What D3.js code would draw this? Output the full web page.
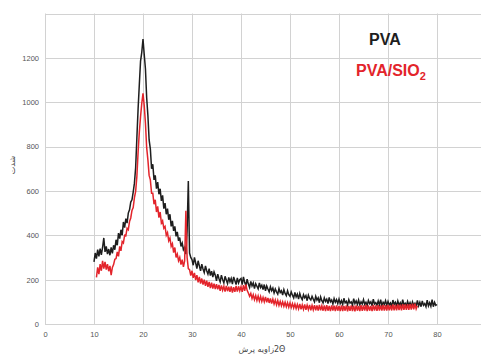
<!DOCTYPE html>
<html>
<head>
<meta charset="utf-8">
<script src="https://cdn.jsdelivr.net/npm/d3@7"></script>
<style>
  body { margin: 0; background: #fff; }
  svg { display: block; }
</style>
</head>
<body>
<div id="chart"></div>
<script>
// 2-theta sampling (degrees)
const pvaStart = 10, pvaEnd = 80, step = 0.25;
const sioStart = 10.5, sioEnd = 76;

// PVA intensity, 10..80 every 0.25 deg
const pvaValues = [
  280, 320, 295, 335, 305, 340, 312, 345, 388, 325, 350, 315, 338, 310, 345, 318, 355, 335, 380, 355,
  410, 385, 425, 400, 460, 435, 475, 455, 500, 515, 550, 560, 595, 635, 705, 840, 970, 1080, 1185, 1225,
  1285, 1215, 1150, 1020, 940, 830, 790, 700, 720, 650, 670, 610, 640, 585, 610, 555, 580, 520, 545, 495,
  520, 470, 495, 440, 465, 420, 440, 395, 415, 375, 390, 350, 365, 335, 345, 315, 420, 645, 320, 300,
  290, 265, 300, 275, 250, 285, 262, 240, 270, 248, 232, 262, 240, 225, 250, 218, 238, 212, 235, 220,
  195, 225, 205, 190, 220, 200, 185, 215, 198, 182, 210, 190, 205, 180, 212, 195, 178, 208, 185, 200,
  205, 178, 212, 188, 172, 202, 180, 165, 192, 172, 185, 160, 182, 170, 158, 185, 165, 175, 155, 178,
  150, 172, 158, 145, 168, 150, 162, 140, 158, 145, 135, 160, 142, 150, 130, 155, 138, 128, 150, 132,
  125, 145, 130, 118, 142, 122, 135, 112, 138, 120, 110, 132, 118, 128, 105, 130, 115, 108, 125, 112,
  100, 125, 108, 118, 96, 122, 105, 95, 118, 102, 112, 92, 120, 100, 108, 90, 115, 98, 110, 92,
  112, 92, 105, 88, 116, 95, 102, 86, 110, 94, 100, 85, 114, 92, 104, 88, 108, 86, 100, 90,
  110, 88, 98, 84, 106, 92, 100, 82, 112, 90, 96, 84, 104, 86, 110, 82, 98, 88, 105, 84,
  102, 86, 95, 80, 108, 88, 98, 82, 104, 84, 96, 80, 110, 86, 94, 82, 102, 84, 96, 78,
  100, 84, 94, 80, 106, 82, 98, 78, 104, 84, 92, 78, 108, 82, 96, 80, 110, 78, 98, 84,
  88
];

// PVA/SiO2 intensity, 10.5..76 every 0.25 deg
const sioValues = [
  210, 255, 225, 270, 240, 285, 250, 280, 245, 270, 238, 262, 220, 255, 268, 292, 295, 325,
  305, 350, 330, 372, 365, 400, 398, 432, 425, 462, 478, 512, 525, 570, 598, 665, 775, 865, 935, 995,
  1040, 985, 905, 795, 740, 670, 650, 590, 590, 540, 560, 505, 530, 480, 505, 455, 465, 432, 440, 400,
  412, 375, 388, 350, 362, 322, 345, 300, 315, 285, 300, 268, 290, 258, 285, 510, 300, 250, 245, 218,
  240, 208, 230, 198, 220, 188, 212, 182, 205, 178, 200, 172, 195, 168, 190, 162, 186, 160, 182, 158,
  180, 156, 176, 150, 174, 152, 170, 146, 172, 148, 168, 145, 170, 142, 166, 145, 172, 146, 170, 150,
  168, 145, 175, 150, 178, 152, 140, 125, 138, 115, 132, 110, 128, 106, 126, 104, 124, 102, 120, 100,
  122, 98, 118, 95, 115, 92, 112, 90, 108, 86, 106, 84, 102, 82, 100, 80, 98, 78, 96, 76,
  95, 74, 92, 72, 90, 70, 88, 68, 90, 66, 86, 66, 88, 64, 85, 65, 86, 62, 84, 64,
  85, 62, 84, 60, 86, 62, 82, 60, 84, 58, 85, 60, 82, 58, 84, 60, 83, 58, 84, 60,
  82, 58, 84, 58, 82, 60, 84, 57, 82, 59, 84, 58, 83, 57, 84, 60, 82, 58, 85, 59,
  84, 60, 86, 58, 84, 60, 82, 58, 86, 60, 84, 59, 85, 60, 84, 60, 86, 60, 85, 61,
  86, 62, 85, 61, 88, 62, 86, 62, 88, 63, 87, 62, 89, 64, 88, 64, 90, 64, 90, 65,
  92, 66, 92, 68, 82
];

const xTicks = [0, 10, 20, 30, 40, 50, 60, 70, 80];
const yTicks = [0, 200, 400, 600, 800, 1000, 1200];
const yGrid = [0, 200, 400, 600, 800, 1000, 1200, 1400];
const xGrid = [0, 10, 20, 30, 40, 50, 60, 70, 80, 90];

const pva = d3.range(pvaStart, pvaEnd + step / 2, step).map((a, i) => ({ a, v: pvaValues[i] }));
const sio = d3.range(sioStart, sioEnd + step / 2, step).map((a, i) => ({ a, v: sioValues[i] }));

const width = 481;
const height = 354;

const svg = d3.select("#chart")
  .append("svg")
  .attr("width", width)
  .attr("height", height);

const x = d3.scaleLinear().domain([0, 90]).range([45, 486]);
const y = d3.scaleLinear().domain([0, 1400]).range([324, 13.5]);

// grid
svg.append("g")
  .selectAll("line")
  .data(yGrid)
  .join("line")
  .attr("x1", x(0)).attr("x2", x(90))
  .attr("y1", d => Math.round(y(d)) + 0.5).attr("y2", d => Math.round(y(d)) + 0.5)
  .attr("stroke", "#d2d2d2");

svg.append("g")
  .selectAll("line")
  .data(xGrid)
  .join("line")
  .attr("x1", d => Math.round(x(d)) + 0.5).attr("x2", d => Math.round(x(d)) + 0.5)
  .attr("y1", y(0)).attr("y2", y(1400))
  .attr("stroke", "#d2d2d2");

// axes (labels only)
const xAxis = svg.append("g")
  .attr("transform", `translate(0,${y(0)})`)
  .call(d3.axisBottom(x).tickValues(xTicks).tickSize(0).tickPadding(8).tickFormat(d3.format("d")));
const yAxis = svg.append("g")
  .attr("transform", `translate(${x(0)},0)`)
  .call(d3.axisLeft(y).tickValues(yTicks).tickSize(0).tickPadding(6).tickFormat(d3.format("d")));
[xAxis, yAxis].forEach(g => {
  g.select(".domain").remove();
  g.selectAll("text")
    .attr("font-family", "Liberation Sans, Arial, sans-serif")
    .attr("font-size", 7.5)
    .attr("fill", "#555");
});

// lines
const line = d3.line()
  .x(d => x(d.a))
  .y(d => y(d.v));

svg.append("path")
  .datum(pva)
  .attr("fill", "none")
  .attr("stroke", "#1e1e1e")
  .attr("stroke-width", 1.5)
  .attr("d", line);

svg.append("path")
  .datum(sio)
  .attr("fill", "none")
  .attr("stroke", "#e3242b")
  .attr("stroke-width", 1.5)
  .attr("d", line);

// legend
svg.append("text")
  .attr("x", 369).attr("y", 45)
  .attr("font-family", "Liberation Sans, Arial, sans-serif")
  .attr("font-weight", "bold")
  .attr("font-size", 16)
  .attr("fill", "#1e1e1e")
  .text("PVA");

const lg = svg.append("text")
  .attr("x", 356).attr("y", 76)
  .attr("font-family", "Liberation Sans, Arial, sans-serif")
  .attr("font-weight", "bold")
  .attr("font-size", 16)
  .attr("fill", "#e3242b");
lg.append("tspan").text("PVA/SIO");
lg.append("tspan").attr("font-size", 11).attr("dy", 4).text("2");

// axis titles
svg.append("text")
  .attr("x", 262).attr("y", 352)
  .attr("text-anchor", "middle")
  .attr("font-family", "DejaVu Sans, sans-serif")
  .attr("font-size", 8)
  .attr("fill", "#444")
  .text("زاویه پرش\u200E2Θ");

svg.append("text")
  .attr("transform", "translate(15,165) rotate(-90)")
  .attr("text-anchor", "middle")
  .attr("font-family", "DejaVu Sans, sans-serif")
  .attr("font-size", 8)
  .attr("fill", "#444")
  .text("شدت");
</script>
</body>
</html>
